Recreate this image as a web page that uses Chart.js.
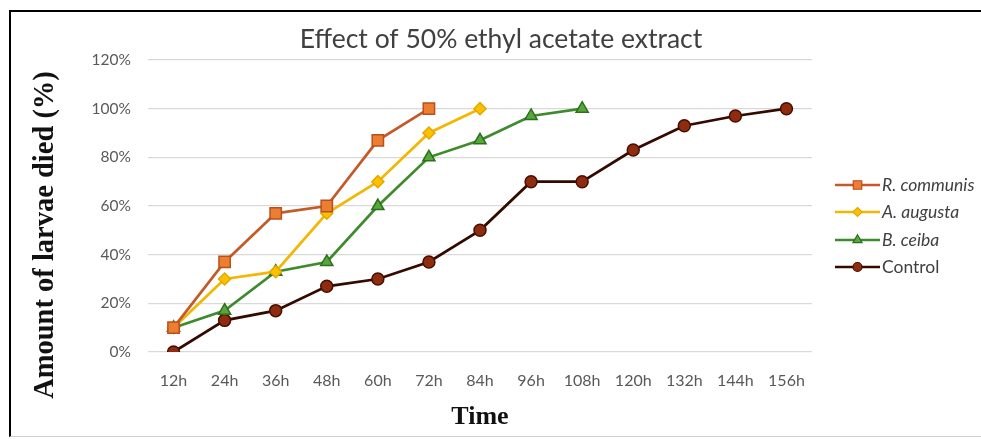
<!DOCTYPE html>
<html>
<head>
<meta charset="utf-8">
<script src="https://cdn.jsdelivr.net/npm/chart.js@4/dist/chart.umd.min.js"></script>
<style>
  html, body { margin: 0; padding: 0; background: #fff; }
  #wrap { position: relative; width: 981px; height: 439px; overflow: hidden; }
  #c { position: absolute; left: 0; top: 0; }
  #frame { position: absolute; left: 9px; top: 10px; right: -5px; bottom: 2px;
           border-left: 2px solid #000; border-top: 2px solid #000; border-bottom: 1px solid #d0d0d0;
           pointer-events: none; }
</style>
</head>
<body>
<div id="wrap">
  <canvas id="c" width="981" height="439"></canvas>
  <div id="frame"></div>
</div>
<script>
// ---- data ----
const categories = ['12h','24h','36h','48h','60h','72h','84h','96h','108h','120h','132h','144h','156h'];
const seriesNames = ['R. communis','A. augusta','B. ceiba','Control'];
const rCommunis = [10, 37, 57, 60, 87, 100];
const aAugusta  = [10, 30, 33, 57, 70, 90, 100];
const bCeiba    = [10, 17, 33, 37, 60, 80, 87, 97, 100];
const control   = [0, 13, 17, 27, 30, 37, 50, 70, 70, 83, 93, 97, 100];
const yTickLabels = ['0%','20%','40%','60%','80%','100%','120%'];
const chartTitle = 'Effect of 50% ethyl acetate extract';
const xTitle = 'Time';
const yTitle = 'Amount of larvae died (%)';

const styles = [
  { line: '#C4592A', fill: '#ED7D31', edge: '#B8501C', shape: 'rect',     r: 8,   italic: true },
  { line: '#F2B705', fill: '#FFC000', edge: '#E0A800', shape: 'rectRot',  r: 6,   italic: true },
  { line: '#3D8B2C', fill: '#56A83A', edge: '#2E6E1E', shape: 'triangle', r: 7,   italic: true },
  { line: '#330900', fill: '#8E2C10', edge: '#4A0E00', shape: 'circle',   r: 6,   italic: false }
];
const seriesData = [rCommunis, aAugusta, bCeiba, control];

const datasets = seriesData.map((d, i) => ({
  label: seriesNames[i],
  data: d,
  borderColor: styles[i].line,
  backgroundColor: styles[i].fill,
  borderWidth: 2.7,
  tension: 0,
  pointStyle: styles[i].shape,
  pointRadius: styles[i].r,
  pointHoverRadius: styles[i].r,
  pointBackgroundColor: styles[i].fill,
  pointBorderColor: styles[i].edge,
  pointBorderWidth: 1.5,
  fill: false
}));

function drawMarker(ctx, shape, x, y, r) {
  ctx.beginPath();
  if (shape === 'rect') {
    const s = r * Math.SQRT1_2;
    ctx.rect(x - s, y - s, 2 * s, 2 * s);
  } else if (shape === 'rectRot') {
    ctx.moveTo(x, y - r); ctx.lineTo(x + r, y); ctx.lineTo(x, y + r); ctx.lineTo(x - r, y); ctx.closePath();
  } else if (shape === 'triangle') {
    const w = r * Math.sqrt(3) / 2;
    ctx.moveTo(x, y - r); ctx.lineTo(x + w, y + r / 2); ctx.lineTo(x - w, y + r / 2); ctx.closePath();
  } else {
    ctx.arc(x, y, r, 0, Math.PI * 2);
  }
  ctx.fill(); ctx.stroke();
}

const extrasPlugin = {
  id: 'extras',
  afterDraw(chart) {
    const ctx = chart.ctx;
    // chart title
    ctx.save();
    ctx.font = '26.5px Lato, "Open Sans", sans-serif';
    ctx.fillStyle = '#404040';
    ctx.textAlign = 'center';
    ctx.textBaseline = 'middle';
    ctx.fillText(chartTitle, 501, 39);
    ctx.restore();
    // y axis title
    ctx.save();
    ctx.translate(46, 235);
    ctx.rotate(-Math.PI / 2);
    ctx.font = 'bold 28.5px "Liberation Serif", "Times New Roman", serif';
    ctx.fillStyle = '#111';
    ctx.textAlign = 'center';
    ctx.textBaseline = 'middle';
    ctx.fillText(yTitle, 0, 0);
    ctx.restore();
    // legend
    const rows = [185, 212, 240, 267];
    chart.data.datasets.forEach((ds, i) => {
      const y = rows[i];
      const st = styles[i];
      ctx.save();
      ctx.strokeStyle = st.line;
      ctx.lineWidth = 2.7;
      ctx.beginPath(); ctx.moveTo(835, y); ctx.lineTo(880, y); ctx.stroke();
      ctx.fillStyle = st.fill; ctx.strokeStyle = st.edge; ctx.lineWidth = 1.2;
      drawMarker(ctx, st.shape, 857.5, y, st.r * 0.75);
      ctx.fillStyle = '#404040';
      ctx.font = (st.italic ? 'italic ' : '') + '17.5px Lato, "Open Sans", sans-serif';
      ctx.textAlign = 'left';
      ctx.textBaseline = 'middle';
      ctx.fillText(ds.label, 882, y);
      ctx.restore();
    });
  }
};

new Chart(document.getElementById('c'), {
  type: 'line',
  data: { labels: categories, datasets },
  plugins: [extrasPlugin],
  options: {
    responsive: false,
    devicePixelRatio: 1,
    animation: false,
    layout: { padding: { top: 60, left: 0, right: 169, bottom: 0 } },
    plugins: {
      legend: { display: false },
      tooltip: { enabled: false },
      title: { display: false }
    },
    scales: {
      x: {
        type: 'category',
        offset: true,
        grid: { display: false, drawTicks: false },
        border: { display: false },
        ticks: {
          color: '#595959',
          font: { family: 'Lato, "Open Sans", sans-serif', size: 16 },
          padding: 19,
          maxRotation: 0,
          autoSkip: false
        },
        title: {
          display: true,
          text: xTitle,
          color: '#111',
          font: { family: '"Liberation Serif", "Times New Roman", serif', size: 26, weight: 'bold' },
          padding: { top: 0, bottom: 6 }
        },
        afterFit(scale) { scale.height = 87; }
      },
      y: {
        min: 0,
        max: 120,
        grid: { color: '#d9d9d9', lineWidth: 1.3, drawTicks: false },
        border: { display: false },
        ticks: {
          stepSize: 20,
          color: '#595959',
          font: { family: 'Lato, "Open Sans", sans-serif', size: 15.5 },
          padding: 17,
          callback: (v, i) => yTickLabels[i]
        },
        afterFit(scale) { scale.width = 148; }
      }
    }
  }
});
</script>
</body>
</html>
